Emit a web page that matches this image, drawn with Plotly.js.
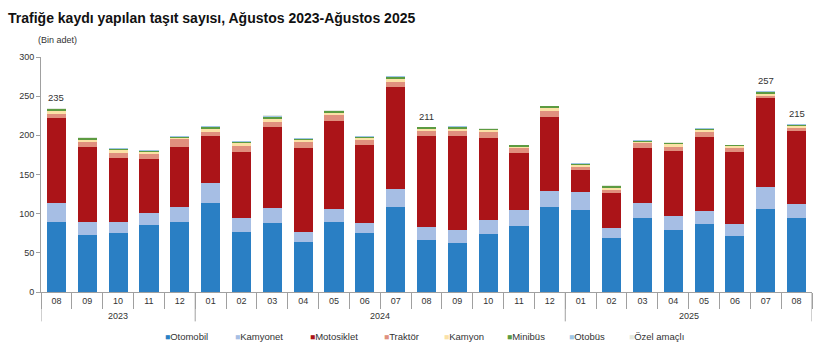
<!DOCTYPE html>
<html>
<head>
<meta charset="utf-8">
<script src="https://cdn.plot.ly/plotly-3.0.1.min.js"></script>
<style>html,body{margin:0;padding:0;background:#fff}#chart{width:820px;height:364px}</style>
</head>
<body>
<div id="chart"></div>
<script>
const years  = ['2023','2023','2023','2023','2023','2024','2024','2024','2024','2024','2024','2024','2024','2024','2024','2024','2024','2025','2025','2025','2025','2025','2025','2025','2025'];
const months = ['08','09','10','11','12','01','02','03','04','05','06','07','08','09','10','11','12','01','02','03','04','05','06','07','08'];

const otomobil   = [88.8,72.7,75.2,85.4,88.8,113.5,76.5,88.0,63.3,88.8,75.2,108.8,65.9,62.5,74.4,84.6,108.8,104.1,68.4,94.8,79.5,86.7,71.8,106.2,94.8];
const kamyonet   = [24.2,17.0,14.5,15.7,20.0,25.5,18.3,19.1,13.6,17.4,12.8,22.5,17.4,16.1,17.0,19.5,20.4,23.8,12.8,18.7,17.8,17.0,14.9,27.7,17.0];
const motosiklet = [109.3,95.6,82.0,68.5,76.5,60.3,83.7,103.3,107.5,111.8,100.3,130.1,116.4,121.1,105.8,73.5,94.3,27.6,44.6,70.9,82.5,94.8,91.8,113.4,94.3];
const traktor    = [5.0,6.7,6.3,6.4,9.7,5.1,8.1,7.2,7.3,8.0,5.9,6.8,6.0,6.0,7.2,6.0,8.1,3.9,4.7,5.6,5.9,5.5,5.9,3.4,3.4];
const kamyon     = [4.0,2.5,3.3,3.0,2.0,4.3,3.4,3.8,2.5,3.0,2.6,3.8,3.0,2.5,2.1,2.1,3.0,2.5,2.5,2.1,3.0,2.5,2.2,2.6,2.1];
const minibus    = [1.7,1.5,1.5,1.4,0.8,2.0,1.5,2.6,1.3,1.5,1.2,2.6,1.5,2.7,1.3,1.8,2.3,1.7,1.8,1.3,1.5,2.2,1.0,2.2,2.0];
const otobus     = [1.0,0.8,0.8,0.8,0.8,1.0,0.8,1.2,0.7,1.0,0.8,0.8,0.6,0.8,0.6,0.5,0.7,1.0,0.9,0.8,0.6,0.9,0.4,0.8,0.6];
const ozelAmacli = [0.5,0.5,0.5,0.5,0.5,0.5,0.5,0.5,0.4,0.5,0.4,0.5,0.4,0.4,0.4,0.3,0.4,0.3,0.3,0.4,0.4,0.4,0.3,0.4,0.4];

const seriesNames = ['Otomobil','Kamyonet','Motosiklet','Traktör','Kamyon','Minibüs','Otobüs','Özel amaçlı'];
const seriesVals  = [otomobil,kamyonet,motosiklet,traktor,kamyon,minibus,otobus,ozelAmacli];
const seriesColors= ['#2a7fc4','#a6bee4','#ab1418','#e0907e','#fbe1a6','#5c9b41','#9ec6e6','#e4e9e0'];

// total labels shown on selected bars
const labelIdx  = [0,12,23,24];
const labelText = ['235','211','257','215'];

// category positions on the x axis (one slot per month)
const xPos = months.map((_,i)=>i);
const boundaries = months.map((_,i)=>i-0.5).concat([months.length-0.5]);

const traces = seriesNames.map((n,i)=>({
  type:'bar', name:n, x:xPos, y:seriesVals[i],
  marker:{color:seriesColors[i], line:{width:0}}, hoverinfo:'skip', showlegend:false
}));

const totals = otomobil.map((_,k)=>seriesVals.reduce((s,a)=>s+a[k],0));
const annotations = labelIdx.map((k,j)=>({
  x:xPos[k], xref:'x', y:totals[k], yref:'y', text:labelText[j],
  showarrow:false, yanchor:'bottom', yshift:3, font:{size:9.5,color:'#333'}
}));
annotations.push({xref:'paper',yref:'paper',x:-0.006,y:1.072,xanchor:'left',yanchor:'middle',
  text:'(Bin adet)',showarrow:false,font:{size:9,color:'#333'}});

// year groups: labels and dividers
const shapes = [];
const uniqYears = years.filter((y,i)=>years.indexOf(y)===i);
uniqYears.forEach(y=>{
  const first = years.indexOf(y), last = years.lastIndexOf(y);
  annotations.push({x:(xPos[first]+xPos[last])/2, xref:'x', y:-0.1, yref:'paper', yanchor:'middle',
    text:y, showarrow:false, font:{size:9,color:'#333'}});
  shapes.push({type:'line', xref:'x', yref:'paper', x0:xPos[first]-0.5, x1:xPos[first]-0.5, y0:0, y1:-0.125,
    line:{color:'#a0a0a0', width:1}});
  if (y===uniqYears[uniqYears.length-1]) {
    shapes.push({type:'line', xref:'x', yref:'paper', x0:xPos[last]+0.5, x1:xPos[last]+0.5, y0:0, y1:-0.125,
      line:{color:'#a0a0a0', width:1}});
  }
});

// legend drawn as text entries
const legendX = [163,233,308,382,442,505,567,627];
seriesNames.forEach((n,i)=>{
  annotations.push({xref:'paper',yref:'paper',x:(legendX[i]-41)/771,y:-0.188,xanchor:'left',yanchor:'middle',
    showarrow:false,align:'left',
    text:'<span style="color:'+seriesColors[i]+';font-size:8.5px">■</span>'+n,
    font:{size:9.5,color:'#333'}});
});

const layout = {
  width:820, height:364,
  margin:{l:41,r:8,t:57,b:72},
  paper_bgcolor:'#fff', plot_bgcolor:'#fff',
  font:{family:'"Liberation Sans", Arial, sans-serif', color:'#333', size:9},
  title:{text:'<b>Trafiğe kaydı yapılan taşıt sayısı, Ağustos 2023-Ağustos 2025</b>',
    x:0.0098, xanchor:'left', xref:'container', y:0.95, yref:'container', yanchor:'middle',
    font:{size:14,color:'#111', family:'"Liberation Sans", Arial, sans-serif'}},
  barmode:'stack', bargap:0.38,
  showlegend:false,
  xaxis:{type:'linear', range:[-0.5, months.length-0.5], showline:true, linecolor:'#a0a0a0', linewidth:1,
    tickmode:'array', tickvals:xPos, ticktext:months, ticks:'', tickfont:{size:9,color:'#333'},
    minor:{tickmode:'array', tickvals:boundaries, ticks:'outside', ticklen:16, tickcolor:'#a0a0a0', showgrid:false},
    showgrid:false, zeroline:false, fixedrange:true},
  yaxis:{range:[0,300], dtick:50, showline:true, linecolor:'#a0a0a0', linewidth:1,
    ticks:'outside', ticklen:4, tickcolor:'#a0a0a0', showgrid:false, zeroline:false,
    tickfont:{size:9,color:'#333'}},
  annotations:annotations,
  shapes:shapes
};

Plotly.newPlot('chart', traces, layout, {displayModeBar:false, staticPlot:true});
</script>
</body>
</html>
